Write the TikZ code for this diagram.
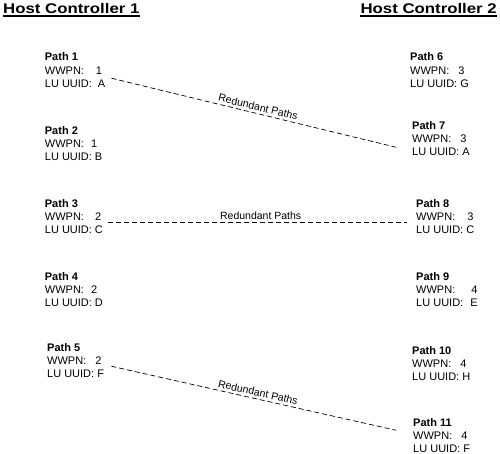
\documentclass[tikz,border=0pt]{standalone}
\usepackage{fontspec}
\setmainfont{Liberation Sans}
\usepackage{graphicx}
\newcommand{\pathinfo}[5]{\textbf{Path #1}\\WWPN:\hspace{#2pt}#3\\LU UUID:\hspace{#4pt}#5}

\begin{document}
\begin{tikzpicture}[
  x=1pt,
  y=-1pt,
  every node/.style={inner sep=0pt, black},
  heading/.style={anchor=base west, font=\fontsize{14}{16}\selectfont\bfseries},
  rule/.style={line width=1.3pt},
  pathbox/.style={anchor=north west, align=left, font=\fontsize{11}{13.3}\selectfont},
  redundant/.style={line width=0.7pt, dash pattern=on 5pt off 3pt},
  tag/.style={font=\fontsize{10.5}{12}\selectfont, sloped, above, inner sep=2.5pt, pos=0.51}
]
  \useasboundingbox (0,0) rectangle (500,454);

  % ================= column headings ====================================
  % The headings are set wider than the face draws them, hence the scalebox.
  \node[heading] (hc1) at (3,13.3) {\scalebox{1.2}[1]{Host Controller 1}};
  \node[heading, anchor=base east] (hc2) at (497,13.3)
    {\scalebox{1.2}[1]{Host Controller 2}};
  \draw[rule] ([yshift=-2.7pt]hc1.base west) -- ([yshift=-2.7pt]hc1.base east);
  \draw[rule] ([yshift=-2.7pt]hc2.base west) -- ([yshift=-2.7pt]hc2.base east);

  % ================= host controller 1 ==================================
  \node[pathbox] (p1) at (44.7,52.7) {\pathinfo{1}{12}{1}{6}{A}};
  \node[pathbox] (p2) at (44.7,126)  {\pathinfo{2}{7}{1}{3}{B}};
  \node[pathbox] (p3) at (44.7,199)  {\pathinfo{3}{11}{2}{3}{C}};
  \node[pathbox] (p4) at (44.7,272)  {\pathinfo{4}{7}{2}{3}{D}};
  \node[pathbox] (p5) at (47,343)    {\pathinfo{5}{9}{2}{3}{F}};

  % ================= host controller 2 ==================================
  \node[pathbox] (p6)  at (410,52.7) {\pathinfo{6}{9}{3}{3}{G}};
  \node[pathbox] (p7)  at (412,121)  {\pathinfo{7}{9}{3}{3}{A}};
  \node[pathbox] (p8)  at (416,199)  {\pathinfo{8}{12}{3}{3}{C}};
  \node[pathbox] (p9)  at (416,272)  {\pathinfo{9}{16}{4}{7}{E}};
  \node[pathbox] (p10) at (412,346)  {\pathinfo{10}{9}{4}{3}{H}};
  \node[pathbox] (p11) at (413,418)  {\pathinfo{11}{9}{4}{3}{F}};

  % ================= the redundant pairs ================================
  % Same LU UUID on both sides; ends sit a little off the block centres.
  \draw[redundant] ([shift={(6pt,-8pt)}]p1.east)
    -- node[tag] {Redundant Paths} ([shift={(-16pt,-8.7pt)}]p7.west);
  \draw[redundant] ([shift={(5.3pt,-5.7pt)}]p3.east)
    -- node[tag] {Redundant Paths} ([shift={(-9pt,-5.7pt)}]p8.west);
  \draw[redundant] ([shift={(7.2pt,-5.7pt)}]p5.east)
    -- node[tag] {Redundant Paths} ([shift={(-17pt,5.3pt)}]p11.west);
\end{tikzpicture}
\end{document}
